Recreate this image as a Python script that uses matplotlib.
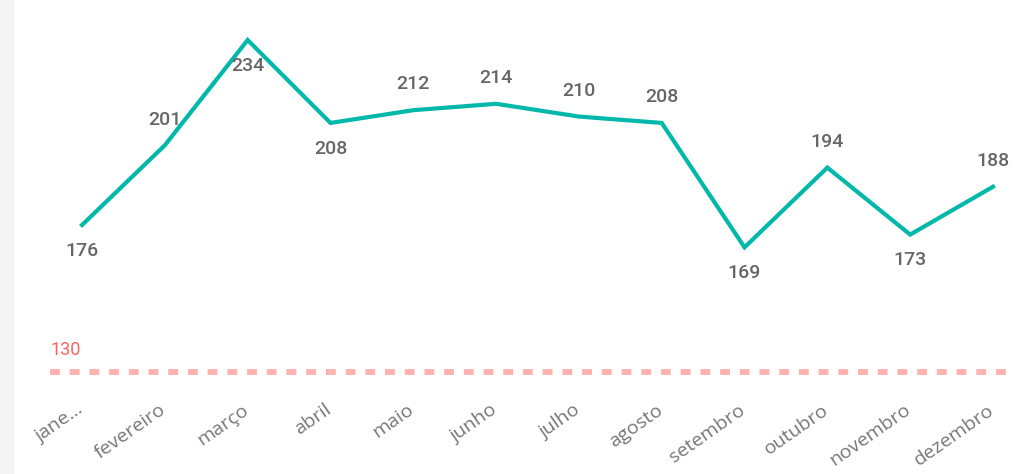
import matplotlib.pyplot as plt
from matplotlib.patches import Rectangle
from matplotlib.transforms import ScaledTranslation

months = ["jane...", "fevereiro", "março", "abril", "maio", "junho",
          "julho", "agosto", "setembro", "outubro", "novembro", "dezembro"]
values = [176, 201, 234, 208, 212, 214, 210, 208, 169, 194, 173, 188]
# label above (+1) or below (-1) the point, as Power BI placed them
label_side = [-1, 1, -1, -1, 1, 1, 1, 1, -1, 1, -1, 1]
target = 130

line_color = "#01B8AA"
target_color = "#FFB3B0"
target_text_color = "#FD625E"
label_color = "#666666"
tick_color = "#777777"

fig = plt.figure(figsize=(10.15, 4.74), dpi=100)
ax = fig.add_axes([0, 74 / 474, 1, 400 / 474])

# faint shadow strip on the left edge
fig.patches.append(Rectangle((0, 0), 13 / 1015, 1, transform=fig.transFigure,
                             color="#F4F4F4", zorder=0))

x = list(range(len(months)))
ax.plot(x, values, color=line_color, linewidth=3, solid_joinstyle="miter", zorder=3)

for xi, v, side in zip(x, values, label_side):
    ax.annotate(str(v), (xi, v), xytext=(0, 18.5 * side), textcoords="offset points",
                ha="center", va="center", fontsize=14, color=label_color,
                family="Roboto", fontweight="medium")

# target line
ax.axhline(target, xmin=50 / 1015, xmax=1010 / 1015, color=target_color,
           linewidth=4.3, linestyle=(0, (1.65, 1.65)), dash_capstyle="butt", zorder=2)
ax.annotate(str(target), (50 / 1015, target), xycoords=("axes fraction", "data"),
            xytext=(0, 16), textcoords="offset points", ha="left", va="center",
            fontsize=13, color=target_text_color, family="Roboto")

# scale: 234 sits 40px from top, 3.19 px per unit
px = 3.19
ax.set_ylim(234 - 360 / px, 234 + 40 / px)
ax.set_xlim(-82 / 82.8, 11 + 22 / 82.8)

ax.set_xticks(x)
ax.set_xticklabels(months, rotation=35, ha="right", rotation_mode="anchor",
                   fontsize=14, color=tick_color, family="Open Sans")
ax.tick_params(axis="x", length=0, pad=2)
shift = ScaledTranslation(-6 / 100, 2 / 100, fig.dpi_scale_trans)
for lbl in ax.get_xticklabels():
    lbl.set_transform(lbl.get_transform() + shift)
ax.set_yticks([])
for s in ax.spines.values():
    s.set_visible(False)

fig.savefig("out.png", dpi=100)
